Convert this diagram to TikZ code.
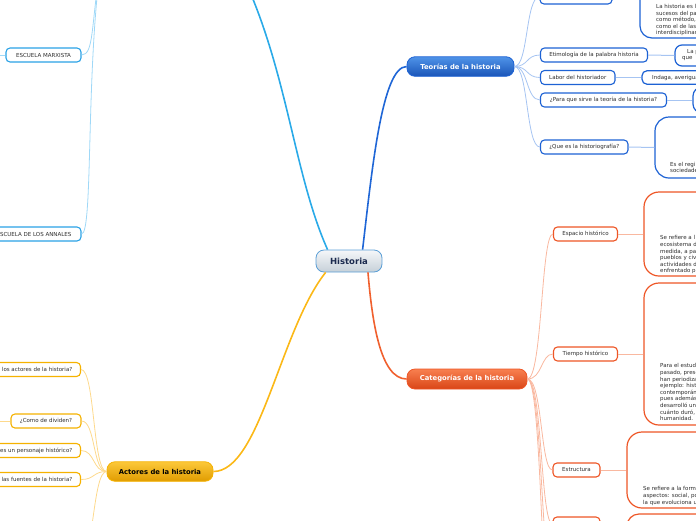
\documentclass[tikz,border=0pt]{standalone}
\usepackage{fontspec}
\setmainfont{DejaVu Sans}
\definecolor{txt}{HTML}{2E2E2E}
\definecolor{teoline}{HTML}{1F66D6}
\definecolor{teotop}{HTML}{4F93E8}
\definecolor{teobot}{HTML}{1A55B8}
\definecolor{teob}{HTML}{1D62D4}
\definecolor{teolight}{HTML}{A6C4F2}
\definecolor{catline}{HTML}{F0602E}
\definecolor{cattop}{HTML}{F88050}
\definecolor{catbot}{HTML}{D94516}
\definecolor{catb}{HTML}{EE5626}
\definecolor{catlight}{HTML}{F9B8A0}
\definecolor{actline}{HTML}{FBB817}
\definecolor{acttop}{HTML}{FCC83A}
\definecolor{actbot}{HTML}{E09C00}
\definecolor{actb}{HTML}{F5B200}
\definecolor{actlight}{HTML}{FDD98C}
\definecolor{escline}{HTML}{2AAAE8}
\definecolor{escb}{HTML}{2AA2E6}
\definecolor{esclight}{HTML}{9FD8F7}
\definecolor{histtop}{HTML}{F5F7F9}
\definecolor{histbot}{HTML}{C6D0D8}
\definecolor{histb}{HTML}{5A9ED6}
\definecolor{histtxt}{HTML}{1B2A4E}
\begin{document}
\begin{tikzpicture}[x=1pt,y=-1pt,
  base/.style={rounded corners=4pt, line width=1.1pt, fill=white, inner sep=0pt,
    minimum height=14pt, font=\fontsize{5.5}{6.6}\selectfont, text=txt},
  teoc/.style={base, draw=teob},
  catc/.style={base, draw=catb},
  actc/.style={base, draw=actb},
  escc/.style={base, draw=escb},
  bigbox/.style={line width=1.2pt, fill=white, inner sep=0pt},
  body/.style={font=\fontsize{5.5}{6.6}\selectfont, text=txt, align=left, inner sep=0pt, anchor=north west},
  lbl/.style={font=\fontsize{5.5}{6.6}\selectfont, text=txt, inner sep=0pt},
  mainbox/.style={rounded corners=8pt, line width=0.8pt, inner sep=0pt, minimum height=19.5pt,
    font=\bfseries\fontsize{6.8}{8}\selectfont},
  mainline/.style={line width=1.6pt},
  subline/.style={line width=0.8pt},
  leafline/.style={line width=1pt}]
\useasboundingbox (0,0) rectangle (696,520);
\clip (0,0) rectangle (696,520);

% ---------- central ----------
\node[mainbox, rounded corners=8pt, draw=histb, top color=histtop, bottom color=histbot,
  minimum width=66pt, minimum height=22pt, text=histtxt, font=\bfseries\fontsize{8.5}{10}\selectfont]
  (hist) at (349,261) {Historia};

% ---------- main branches ----------
\node[mainbox, draw=teob, top color=teotop, bottom color=teobot, text=white, minimum width=107pt]
  (teo) at (460.5,66.5) {Teorías de la historia};
\node[mainbox, draw=catb, top color=cattop, bottom color=catbot, text=white, minimum width=120pt, minimum height=20pt]
  (cat) at (467,379) {Categorías de la historia};
\node[mainbox, draw=actb, top color=acttop, bottom color=actbot, text=black, minimum width=106pt]
  (act) at (160,471.5) {Actores de la historia};
\coordinate (escm) at (235,-40);

\draw[mainline, teoline] (hist.40) .. controls (372,170) and (382,66.5) .. (teo.west);
\draw[mainline, catline] (hist.-31) .. controls (372,320) and (380,379) .. (cat.west);
\draw[mainline, actline] (hist.206) .. controls (280,330) and (260,471.5) .. (act.east);
\draw[mainline, escline] (hist.152) .. controls (292,170) and (287,60) .. (escm);

% ---------- Teorías children ----------
\node[teoc, minimum width=72pt] (teo0) at (576,-3) {};
\node[teoc, minimum width=107pt] (etim) at (594,55) {Etimología de la palabra historia};
\node[teoc, minimum width=74.5pt] (labor) at (577.75,77.5) {Labor del historiador};
\node[teoc, minimum width=126pt] (para) at (603.5,100) {¿Para que sirve la teoría de la historia?};
\node[teoc, minimum width=87.5pt] (histg) at (584.25,147) {¿Que es la historiografía?};

\foreach \c in {teo0,etim,labor,para,histg}
  \draw[subline, teolight] (teo.east) .. controls +(14,0) and +(-14,0) .. (\c.west);

\node[bigbox, draw=teob, rounded corners=12pt, minimum width=80pt, minimum height=98pt] (topbox) at (680,-11) {};
\node[bigbox, draw=teob, rounded corners=7pt, minimum width=85pt, minimum height=21pt] (etimbox) at (717.5,55.5) {};
\node[bigbox, draw=teob, rounded corners=5pt, minimum width=118pt, minimum height=13.5pt] (laborbox) at (701,77.5) {};
\node[bigbox, draw=teob, rounded corners=9pt, minimum width=67pt, minimum height=26pt] (parabox) at (726.5,100) {};
\node[bigbox, draw=teob, rounded corners=14pt, minimum width=105pt, minimum height=61pt] (histbox) at (707.5,147.5) {};

\draw[leafline, teolight] (teo0.east) -- (teo0.east -| topbox.west);
\draw[leafline, teolight] (etim.east) -- (etimbox.west);
\draw[leafline, teolight] (labor.east) -- (laborbox.west);
\draw[leafline, teolight] (para.east) -- (parabox.west);
\draw[leafline, teolight] (histg.east) -- (histbox.west);

\node[body] (toptext) at (656,4.2) {La historia es l\\sucesos del pa\\como método,\\como el de las\\interdisciplinar};
\node[lbl, anchor=west] (etimt1) at (687,52) {La p};
\node[lbl, anchor=west] (etimt2) at (682,59) {que};
\node[lbl, anchor=west] (labort) at (652,77.5) {Indaga, averigua};
\node[body] (histgt) at (670,162) {Es el regi\\sociedade};

% ---------- Categorías children ----------
\node[catc, minimum width=64pt] (esp) at (585.5,234) {Espacio histórico};
\node[catc, minimum width=64pt] (tiem) at (585.5,354) {Tiempo histórico};
\node[catc, minimum width=47pt] (estr) at (576.5,470) {Estructura};
\node[catc, minimum width=47pt] (cat4) at (576.5,524) {};
\coordinate (cat5) at (553,580);
\coordinate (cat6) at (553,640);

\foreach \c in {esp,tiem,estr,cat4}
  \draw[subline, catlight] (cat.east) .. controls +(15,0) and +(-12,0) .. (\c.west);
\foreach \c in {cat5,cat6}
  \draw[subline, catlight] (cat.east) .. controls +(15,0) and +(-12,0) .. (\c);

\node[bigbox, draw=catb, rounded corners=15pt, minimum width=116pt, minimum height=84pt] (espbox) at (702,234) {};
\node[bigbox, draw=catb, rounded corners=15pt, minimum width=116pt, minimum height=142pt] (tiembox) at (702,354) {};
\node[bigbox, draw=catb, rounded corners=15pt, minimum width=133pt, minimum height=76pt] (estrbox) at (693.5,470) {};
\node[bigbox, draw=catb, rounded corners=12pt, minimum width=133pt, minimum height=34pt] (cat4box) at (693.5,531) {};

\draw[leafline, catlight] (esp.east) -- (espbox.west);
\draw[leafline, catlight] (tiem.east) -- (tiembox.west);
\draw[leafline, catlight] (estr.east) -- (estrbox.west);
\draw[leafline, catlight] (cat4.east) -- (cat4box.west);

\node[body] (espt) at (660,235.5) {Se refiere a l\\ecosistema d\\medida, a pa\\pueblos y civ\\actividades d\\enfrentado p};
\node[body] (tiemt) at (660,363.5) {Para el estudi\\pasado, prese\\han periodiza\\ejemplo: hist\\contemporán\\pues además\\desarrolló un\\cuánto duró,\\humanidad.};
\node[body] (estrt) at (643,486.5) {Se refiere a la form\\aspectos: social, po\\la que evoluciona u};

% ---------- Actores children ----------
\node[actc, minimum width=120.5pt] (act1) at (20.25,369.5) {};
\node[actc, minimum width=70pt] (act2) at (46,421) {¿Como de dividen?};
\node[actc, minimum width=120.5pt] (act3) at (20.25,450.5) {};
\node[actc, minimum width=120.5pt] (act4) at (20.25,479.5) {};
\coordinate (act5) at (80,560);
\coordinate (act2c) at (-20,421);

\node[lbl, anchor=east] (act1t) at (72.5,369.5) {los actores de la historia?};
\node[lbl, anchor=east] (act3t) at (72.5,450.5) {es un personaje histórico?};
\node[lbl, anchor=east] (act4t) at (72.5,479.5) {las fuentes de la historia?};

\foreach \c in {act1,act2,act3,act4}
  \draw[subline, actlight] (act.west) .. controls +(-14,0) and +(14,0) .. (\c.east);
\draw[subline, actlight] (act.west) .. controls +(-14,0) and +(14,0) .. (act5);
\draw[leafline, actlight] (act2.west) -- (act2c);

% ---------- Escuelas ----------
\coordinate (escp) at (100,-30);
\node[escc, minimum width=75pt] (marx) at (43.5,55) {ESCUELA MARXISTA};
\node[escc, minimum width=120pt] (ann) at (21,234) {};
\node[lbl, anchor=east] (annt) at (71.5,234) {SCUELA DE LOS ANNALES};
\coordinate (marxc) at (-20,55);

\draw[subline, esclight] (escp) .. controls (91,25) and (94,55) .. (marx.east);
\draw[subline, esclight] (escp) .. controls (86,80) and (93,234) .. (ann.east);
\draw[leafline, esclight] (marx.west) -- (marxc);
\end{tikzpicture}
\end{document}
